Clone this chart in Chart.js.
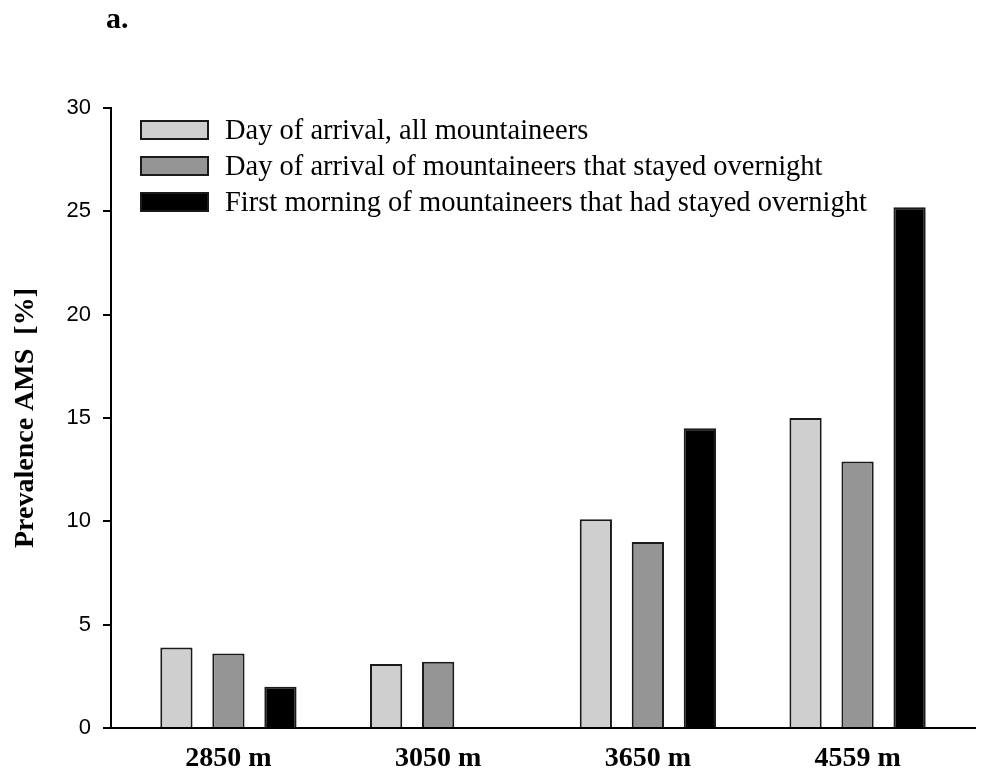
<!DOCTYPE html>
<html>
<head>
<meta charset="utf-8">
<script src="https://cdn.jsdelivr.net/npm/chart.js@4"></script>
<style>
  html, body { margin: 0; padding: 0; background: #fff; }
  #wrap { width: 984px; height: 776px; }
</style>
</head>
<body>
<div id="wrap"><canvas id="chart"></canvas></div>
<script>
// altitudes (x categories)
const sites = ['2850 m', '3050 m', '3650 m', '4559 m']
// prevalence of AMS, %
const arrivalAll = [3.9, 3.1, 10.1, 15.0]
const arrivalOvernight = [3.6, 3.2, 9.0, 12.9]
const firstMorning = [2.0, 0, 14.5, 25.2]
const seriesNames = [
    'Day of arrival, all mountaineers',
    'Day of arrival of mountaineers that stayed overnight',
    'First morning of mountaineers that had stayed overnight'
]
const yTicks = [0, 5, 10, 15, 20, 25, 30]

const serif = "'Liberation Serif', 'Times New Roman', serif"
const sans = "'Liberation Sans', Arial, sans-serif"

const toPoints = (vals) => vals.map((v, i) => ({ x: i, y: v }))

// legend drawn inside the plot, top-left
const boxLegend = {
    id: 'boxLegend',
    afterDraw(chart) {
        const ctx = chart.ctx
        const area = chart.chartArea
        ctx.save()
        ctx.font = `28.5px ${serif}`
        ctx.textBaseline = 'middle'
        ctx.textAlign = 'left'
        chart.data.datasets.forEach((ds, i) => {
            const x = area.left + 30
            const y = area.top + 13 + i * 36
            ctx.fillStyle = ds.backgroundColor
            ctx.fillRect(x, y, 67, 18)
            ctx.lineWidth = 2
            ctx.strokeStyle = '#1a1a1a'
            ctx.strokeRect(x, y, 67, 18)
            ctx.fillStyle = '#000'
            ctx.fillText(ds.label, x + 84, y + 11)
        })
        // panel letter
        ctx.font = `bold 30px ${serif}`
        ctx.textBaseline = 'alphabetic'
        ctx.fillText('a.', 106, 28)
        ctx.restore()
    }
}

const colors = ['#cfcfcf', '#959595', '#000000']
const series = [arrivalAll, arrivalOvernight, firstMorning]

new Chart(document.getElementById('chart'), {
    type: 'bar',
    data: {
        datasets: series.map((vals, i) => ({
            label: seriesNames[i],
            data: toPoints(vals),
            backgroundColor: colors[i],
            borderColor: '#1a1a1a',
            borderWidth: 2,
            categoryPercentage: 0.744,
            barPercentage: 0.62
        }))
    },
    options: {
        responsive: true,
        maintainAspectRatio: false,
        animation: false,
        layout: { padding: { left: 0, right: 9, top: 108, bottom: 0 } },
        plugins: {
            legend: { display: false },
            tooltip: { enabled: false }
        },
        scales: {
            x: {
                type: 'linear',
                offset: false,
                min: -0.56,
                max: 3.56,
                afterBuildTicks: (scale) => { scale.ticks = sites.map((_, i) => ({ value: i })) },
                afterFit: (scale) => { scale.height = 48 },
                grid: { display: false, drawTicks: false, offset: false },
                border: { display: true, color: '#000', width: 2 },
                ticks: {
                    padding: 14,
                    color: '#000',
                    font: { family: serif, size: 28, weight: 'bold' },
                    callback: (v) => sites[v] ?? ''
                }
            },
            y: {
                min: 0,
                max: 30,
                afterBuildTicks: (scale) => { scale.ticks = yTicks.map(v => ({ value: v })) },
                afterFit: (scale) => { scale.width = 111 },
                grid: { drawOnChartArea: false, drawTicks: true, tickLength: 8, color: '#000', lineWidth: 2 },
                border: { display: true, color: '#000', width: 2 },
                ticks: {
                    padding: 12,
                    color: '#000',
                    font: { family: sans, size: 22 }
                },
                title: {
                    display: true,
                    text: 'Prevalence AMS  [%]',
                    color: '#000',
                    font: { family: serif, size: 28, weight: 'bold' },
                    padding: { top: 9, bottom: 0 }
                }
            }
        }
    },
    plugins: [boxLegend]
})
</script>
</body>
</html>
